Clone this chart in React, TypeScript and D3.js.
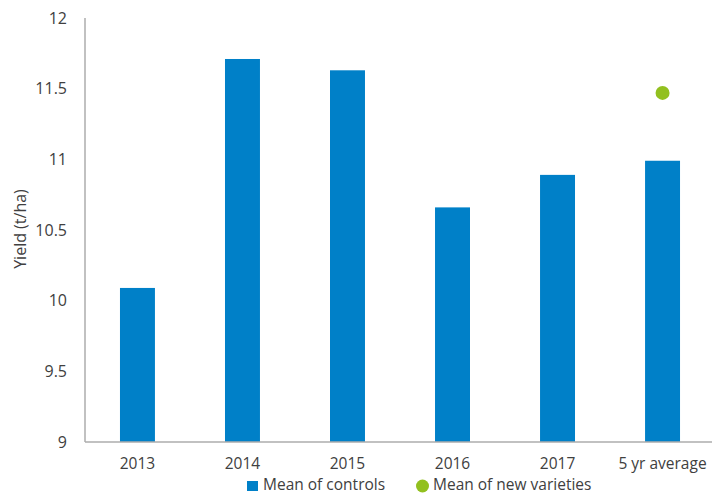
import React from "react";
import * as d3 from "d3";

const categories = ["2013", "2014", "2015", "2016", "2017", "5 yr average"];
const controls = [10.09, 11.71, 11.63, 10.66, 10.89, 10.99];
const newVarieties: (number | null)[] = [null, null, null, null, null, 11.47];
const yTicks = [9, 9.5, 10, 10.5, 11, 11.5, 12];

const W = 712, H = 494;
const left = 85, right = 715, top = 18, bottom = 442;
const FONT = "'Open Sans', 'Liberation Sans', sans-serif";
const TXT = "#404040";

export default function App() {
  const x = d3.scaleBand<string>().domain(categories).range([left, right]).paddingInner(0.667).paddingOuter(0.333);
  const y = d3.scaleLinear().domain([9, 12]).range([bottom, top]);
  return (
    <svg width={W} height={H} style={{ position: "absolute", left: 0, top: 0 }} fontFamily={FONT}>
      <rect width={W} height={H} fill="#fff" />
      {controls.map((v, i) => (
        <rect key={i} x={x(categories[i])} y={y(v)} width={x.bandwidth()} height={y(9) - y(v)} fill="#0080C8" />
      ))}
      {newVarieties.map((v, i) =>
        v == null ? null : (
          <circle key={i} cx={x(categories[i])! + x.bandwidth() / 2} cy={y(v)} r={7} fill="#92C01F" />
        )
      )}
      <line x1={left} x2={left} y1={top} y2={bottom} stroke="#ADADAD" strokeWidth={1.5} />
      <line x1={left} x2={W} y1={bottom} y2={bottom} stroke="#ADADAD" strokeWidth={1.5} />
      {yTicks.map((t) => (
        <text key={t} x={67} y={y(t)} dy="0.36em" textAnchor="end" fontSize={16} fill={TXT}>
          {t}
        </text>
      ))}
      {categories.map((c) => (
        <text key={c} x={x(c)! + x.bandwidth() / 2} y={469} textAnchor="middle" fontSize={15.5} fill={TXT}>
          {c}
        </text>
      ))}
      <text transform={`translate(26,${229}) rotate(-90)`} textAnchor="middle" fontSize={16} fill={TXT}>
        Yield (t/ha)
      </text>
      <rect x={247} y={481} width={11} height={10} fill="#0080C8" />
      <text x={263} y={490} fontSize={15.5} fill={TXT}>Mean of controls</text>
      <circle cx={422.5} cy={486} r={6.5} fill="#92C01F" />
      <text x={433} y={490} fontSize={15.5} fill={TXT}>Mean of new varieties</text>
    </svg>
  );
}
